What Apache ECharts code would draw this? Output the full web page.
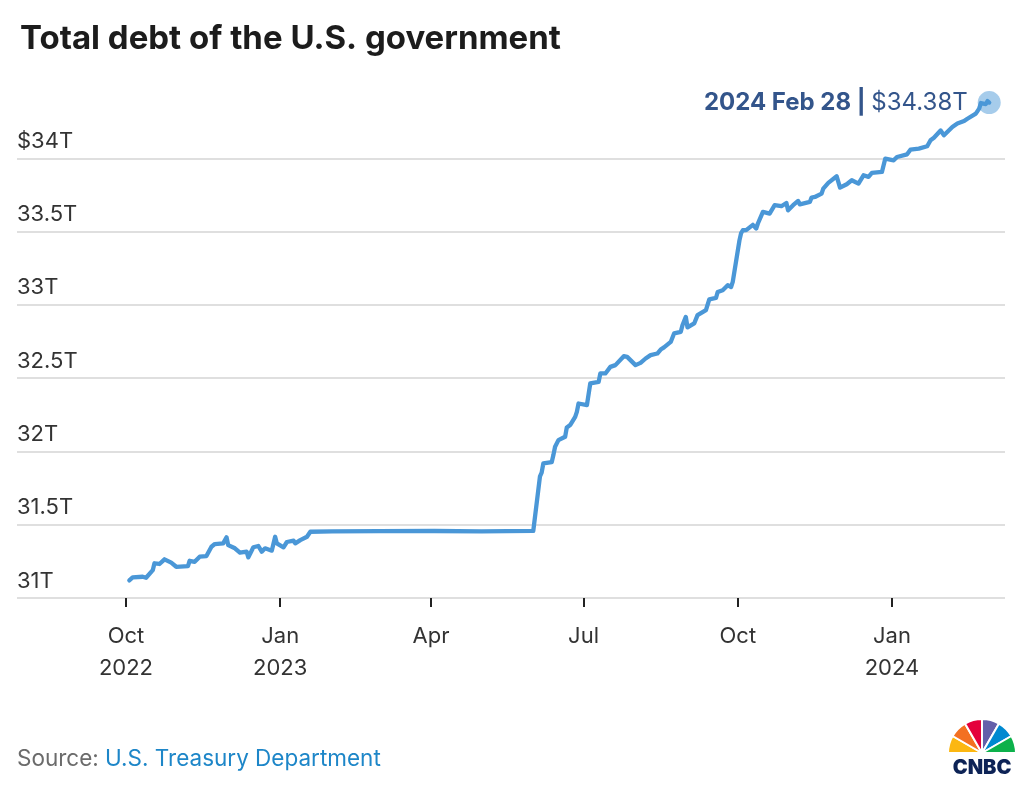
<!DOCTYPE html>
<html>
<head>
    <meta charset="utf-8">
    <title>Total debt of the U.S. government</title>
    <script src="https://cdn.jsdelivr.net/npm/echarts@6/dist/echarts.min.js"></script>
    <style>
        html, body { margin: 0; padding: 0; background: #fff; }
        #chart { width: 1024px; height: 798px; }
    </style>
</head>
<body>
<div id="chart"></div>
<script type="text/javascript">
    // dates and total debt (trillions of dollars)
    var dates = [
        '2022-10-03', '2022-10-05', '2022-10-11', '2022-10-13', '2022-10-17', '2022-10-18', '2022-10-21',
        '2022-10-24', '2022-10-28', '2022-10-31', '2022-11-07', '2022-11-08', '2022-11-11', '2022-11-14',
        '2022-11-18', '2022-11-21', '2022-11-23', '2022-11-28', '2022-11-30', '2022-12-01', '2022-12-05',
        '2022-12-08', '2022-12-12', '2022-12-13', '2022-12-16', '2022-12-19', '2022-12-21', '2022-12-23',
        '2022-12-27', '2022-12-29', '2022-12-30', '2023-01-03', '2023-01-05', '2023-01-09', '2023-01-10',
        '2023-01-13', '2023-01-17', '2023-01-19', '2023-02-01', '2023-03-01', '2023-04-03', '2023-05-01',
        '2023-06-01', '2023-06-02', '2023-06-05', '2023-06-06', '2023-06-07', '2023-06-12', '2023-06-13',
        '2023-06-14', '2023-06-16', '2023-06-20', '2023-06-21', '2023-06-23', '2023-06-26', '2023-06-27',
        '2023-06-28', '2023-07-03', '2023-07-05', '2023-07-10', '2023-07-11', '2023-07-14', '2023-07-17',
        '2023-07-20', '2023-07-21', '2023-07-25', '2023-07-27', '2023-08-01', '2023-08-04', '2023-08-07',
        '2023-08-10', '2023-08-14', '2023-08-16', '2023-08-18', '2023-08-22', '2023-08-24', '2023-08-28',
        '2023-08-29', '2023-08-31', '2023-09-01', '2023-09-05', '2023-09-07', '2023-09-08', '2023-09-12',
        '2023-09-14', '2023-09-18', '2023-09-19', '2023-09-22', '2023-09-25', '2023-09-27', '2023-09-28',
        '2023-09-29', '2023-10-02', '2023-10-03', '2023-10-04', '2023-10-06', '2023-10-10', '2023-10-12',
        '2023-10-13', '2023-10-16', '2023-10-20', '2023-10-23', '2023-10-27', '2023-10-30', '2023-10-31',
        '2023-11-03', '2023-11-06', '2023-11-07', '2023-11-13', '2023-11-14', '2023-11-16', '2023-11-20',
        '2023-11-21', '2023-11-24', '2023-11-29', '2023-12-01', '2023-12-05', '2023-12-08', '2023-12-12',
        '2023-12-15', '2023-12-18', '2023-12-20', '2023-12-26', '2023-12-28', '2024-01-02', '2024-01-04',
        '2024-01-10', '2024-01-12', '2024-01-17', '2024-01-22', '2024-01-24', '2024-01-26', '2024-01-30',
        '2024-02-01', '2024-02-02', '2024-02-06', '2024-02-09', '2024-02-13', '2024-02-15', '2024-02-16',
        '2024-02-20', '2024-02-22', '2024-02-23', '2024-02-26', '2024-02-27', '2024-02-28'
    ];
    var debt = [
        31.12, 31.14, 31.145, 31.138, 31.19, 31.237, 31.232,
        31.264, 31.241, 31.213, 31.218, 31.254, 31.247, 31.282,
        31.286, 31.35, 31.368, 31.373, 31.414, 31.361, 31.339,
        31.309, 31.316, 31.277, 31.346, 31.355, 31.316, 31.339,
        31.323, 31.418, 31.373, 31.346, 31.382, 31.391, 31.373,
        31.395, 31.418, 31.452, 31.455, 31.456, 31.457, 31.455,
        31.458, 31.465, 31.83, 31.855, 31.918, 31.927, 31.975,
        32.032, 32.077, 32.10, 32.164, 32.18, 32.236, 32.27,
        32.327, 32.316, 32.464, 32.475, 32.532, 32.532, 32.577,
        32.589, 32.595, 32.65, 32.645, 32.589, 32.604, 32.634,
        32.657, 32.668, 32.695, 32.71, 32.747, 32.805, 32.816,
        32.861, 32.918, 32.846, 32.873, 32.93, 32.934, 32.964,
        33.037, 33.047, 33.088, 33.10, 33.134, 33.122, 33.157,
        33.167, 33.44, 33.49, 33.509, 33.51, 33.546, 33.521,
        33.555, 33.634, 33.623, 33.68, 33.673, 33.695, 33.645,
        33.68, 33.709, 33.686, 33.702, 33.732, 33.736, 33.759,
        33.793, 33.832, 33.877, 33.80, 33.823, 33.85, 33.827,
        33.884, 33.873, 33.90, 33.907, 33.998, 33.986, 34.009,
        34.027, 34.059, 34.066, 34.082, 34.123, 34.14, 34.19,
        34.157, 34.15, 34.213, 34.237, 34.254, 34.27, 34.281,
        34.305, 34.339, 34.377, 34.37, 34.39, 34.38
    ];
    // x axis tick dates
    var tickDates = ['2022-10-01', '2023-01-01', '2023-04-01', '2023-07-01', '2023-10-01', '2024-01-01'];
    var monthNames = ['Jan', 'Feb', 'Mar', 'Apr', 'May', 'Jun', 'Jul', 'Aug', 'Sep', 'Oct', 'Nov', 'Dec'];

    function toTime(s) {
        var p = s.split('-');
        return new Date(+p[0], +p[1] - 1, +p[2]).getTime();
    }

    var tickTimes = tickDates.map(toTime);
    var lastDate = dates[dates.length - 1];
    var lastValue = debt[debt.length - 1];
    var lp = lastDate.split('-');
    var lastLabel = lp[0] + ' ' + monthNames[+lp[1] - 1] + ' ' + (+lp[2]);

    var font = 'Inter, Lato, sans-serif';
    var lineColor = '#4a97d7';
    var navy = '#002a6e';

    var myChart = echarts.init(document.getElementById('chart'), null, {renderer: 'canvas'});
    myChart.setOption({
        animation: false,
        backgroundColor: '#fff',
        textStyle: {fontFamily: font},
        title: {
            text: 'Total debt of the U.S. government',
            left: 15,
            top: 18,
            textStyle: {fontSize: 33, fontWeight: 'bold', color: '#1c1c1c', fontFamily: font}
        },
        grid: {left: 17, right: 19, top: 85, bottom: 200},
        xAxis: {
            // timestamps on a value axis so the quarter ticks can be placed exactly
            type: 'value',
            min: new Date(2022, 6, 28).getTime(),
            max: new Date(2024, 2, 8, 10).getTime(),
            axisLine: {show: false},
            splitLine: {show: false},
            axisTick: {
                show: true,
                customValues: tickTimes,
                length: 9,
                lineStyle: {color: '#222', width: 2}
            },
            axisLabel: {
                customValues: tickTimes,
                margin: 22,
                fontSize: 22,
                lineHeight: 32,
                color: '#333',
                fontFamily: font,
                formatter: function (val) {
                    var d = new Date(val);
                    var m = monthNames[d.getMonth()];
                    if (d.getMonth() === 0 || val === tickTimes[0]) {
                        return m + '\n' + d.getFullYear();
                    }
                    return m;
                }
            }
        },
        yAxis: {
            type: 'value',
            min: 31,
            max: 34.5,
            interval: 0.5,
            axisLine: {show: false},
            axisTick: {show: false},
            axisLabel: {
                inside: true,
                margin: 0,
                verticalAlign: 'bottom',
                padding: [0, 0, 6, 0],
                fontSize: 22,
                color: '#333',
                fontFamily: font,
                showMaxLabel: false,
                formatter: function (v) {
                    return v === 34 ? '$34T' : v + 'T';
                }
            },
            splitLine: {
                showMaxLine: false,
                lineStyle: {color: '#d4d4d4', width: 1.5}
            }
        },
        series: [
            {
                name: 'Total debt',
                type: 'line',
                showSymbol: false,
                data: dates.map(function (d, i) { return [toTime(d), debt[i]]; }),
                lineStyle: {color: lineColor, width: 4.3, join: 'round', cap: 'round'},
                itemStyle: {color: lineColor},
                z: 2
            },
            {
                name: 'Latest',
                type: 'scatter',
                symbolSize: 23,
                data: [[toTime(lastDate), lastValue]],
                itemStyle: {color: 'rgba(74,151,215,0.62)'},
                z: 3,
                label: {
                    show: true,
                    position: 'left',
                    distance: 10,
                    formatter: '{d|' + lastLabel + '}{s| | }{v|$' + lastValue.toFixed(2) + 'T}',
                    rich: {
                        d: {fontSize: 24, fontWeight: 'bold', color: navy, fontFamily: font},
                        s: {fontSize: 24, fontWeight: 'bold', color: navy, fontFamily: font},
                        v: {fontSize: 24, color: navy, fontFamily: font}
                    }
                }
            }
        ],
        graphic: [
            {
                type: 'text',
                left: 17,
                top: 748,
                style: {
                    text: '{a|Source: }{b|U.S. Treasury Department}',
                    rich: {
                        a: {fontSize: 22.5, fill: '#6b6b6b', fontFamily: font},
                        b: {fontSize: 22.5, fill: '#1d86c8', fontFamily: font}
                    }
                }
            },
            {
                type: 'group',
                left: 947,
                top: 718,
                children: [
                    {type: 'sector', shape: {cx: 31, cy: 35, r0: 3, r: 34, startAngle: -Math.PI, endAngle: -Math.PI * 5 / 6}, style: {fill: '#fcb711', stroke: '#fff', lineWidth: 2}},
                    {type: 'sector', shape: {cx: 31, cy: 35, r0: 3, r: 34, startAngle: -Math.PI * 5 / 6, endAngle: -Math.PI * 4 / 6}, style: {fill: '#f37021', stroke: '#fff', lineWidth: 2}},
                    {type: 'sector', shape: {cx: 31, cy: 35, r0: 3, r: 34, startAngle: -Math.PI * 4 / 6, endAngle: -Math.PI / 2}, style: {fill: '#e4003b', stroke: '#fff', lineWidth: 2}},
                    {type: 'sector', shape: {cx: 31, cy: 35, r0: 3, r: 34, startAngle: -Math.PI / 2, endAngle: -Math.PI * 2 / 6}, style: {fill: '#6460aa', stroke: '#fff', lineWidth: 2}},
                    {type: 'sector', shape: {cx: 31, cy: 35, r0: 3, r: 34, startAngle: -Math.PI * 2 / 6, endAngle: -Math.PI / 6}, style: {fill: '#0089d0', stroke: '#fff', lineWidth: 2}},
                    {type: 'sector', shape: {cx: 31, cy: 35, r0: 3, r: 34, startAngle: -Math.PI / 6, endAngle: 0}, style: {fill: '#0db14b', stroke: '#fff', lineWidth: 2}},
                    {
                        type: 'text',
                        x: 31,
                        y: 40,
                        style: {
                            text: 'CNBC',
                            align: 'center',
                            verticalAlign: 'top',
                            fontSize: 20,
                            fontWeight: 900,
                            fill: '#0d2356',
                            fontFamily: font
                        }
                    }
                ]
            }
        ]
    });
</script>
</body>
</html>
